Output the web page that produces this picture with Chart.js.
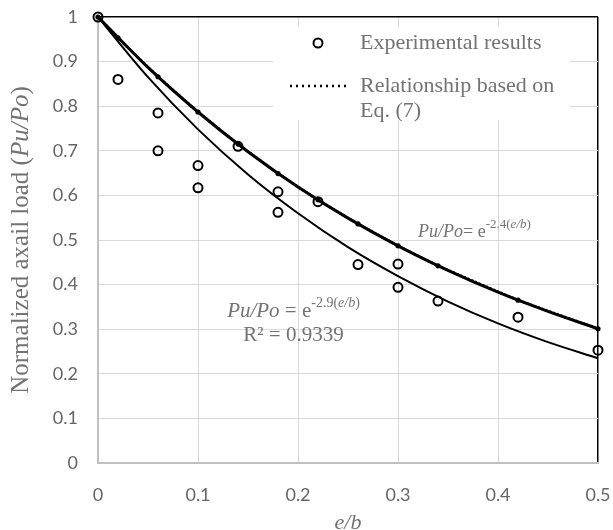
<!DOCTYPE html>
<html>
<head>
<meta charset="utf-8">
<script src="https://cdn.jsdelivr.net/npm/chart.js@4.4.1/dist/chart.umd.min.js"></script>
<style>
  html, body { margin: 0; padding: 0; background: #fff; }
</style>
</head>
<body>
<canvas id="chart" width="613" height="530"></canvas>
<script>
// experimental results (e/b, Pu/Po)
const expX = [0, 0.02, 0.06, 0.06, 0.10, 0.10, 0.14, 0.18, 0.18, 0.22, 0.26, 0.30, 0.30, 0.34, 0.42, 0.50];
const expY = [1.0, 0.86, 0.785, 0.70, 0.667, 0.617, 0.71, 0.608, 0.562, 0.586, 0.445, 0.446, 0.394, 0.363, 0.327, 0.253];

// relationship based on Eq. (7)
const eq7X = [0, 0.02, 0.06, 0.10, 0.14, 0.18, 0.22, 0.26, 0.30, 0.34, 0.42, 0.50];
const eq7Y = [1.0, 0.953, 0.866, 0.787, 0.715, 0.649, 0.590, 0.536, 0.487, 0.442, 0.365, 0.301];

// trend curves
const trendX = [0, 0.05, 0.10, 0.15, 0.20, 0.25, 0.30, 0.35, 0.40, 0.45, 0.50];
const trendEq7 = [1.0, 0.887, 0.787, 0.698, 0.619, 0.549, 0.487, 0.432, 0.383, 0.340, 0.301];
const trendExp = [1.0, 0.865, 0.748, 0.647, 0.560, 0.484, 0.419, 0.362, 0.313, 0.271, 0.235];

const xTicks = [0, 0.1, 0.2, 0.3, 0.4, 0.5];
const yTicks = [0, 0.1, 0.2, 0.3, 0.4, 0.5, 0.6, 0.7, 0.8, 0.9, 1];

const legendLabels = ['Experimental results', 'Relationship based on', 'Eq. (7)'];

const pts = (xs, ys) => xs.map((x, i) => ({ x: x, y: ys[i] }));
const SERIF = '"Liberation Serif", "Times New Roman", serif';
const TXT = '#737373';

// draws runs of text [str, italic, size, raise] one after another
function drawRuns(ctx, runs, x, y) {
  runs.forEach(r => {
    ctx.font = (r[1] ? 'italic ' : '') + r[2] + 'px ' + SERIF;
    ctx.fillText(r[0], x, y - (r[3] || 0));
    x += ctx.measureText(r[0]).width;
  });
}
function runsWidth(ctx, runs) {
  let w = 0;
  runs.forEach(r => { ctx.font = (r[1] ? 'italic ' : '') + r[2] + 'px ' + SERIF; w += ctx.measureText(r[0]).width; });
  return w;
}

const extras = {
  id: 'extras',
  beforeDatasetsDraw(chart) {
    const ctx = chart.ctx, a = chart.chartArea;
    const left = a.right - 325, top = a.top + 10;
    ctx.save();
    ctx.fillStyle = '#fff';
    ctx.fillRect(left, top, 297, 93);
    // circle marker
    ctx.beginPath();
    ctx.arc(left + 45, top + 16, 4.5, 0, Math.PI * 2);
    ctx.lineWidth = 2;
    ctx.strokeStyle = '#000';
    ctx.stroke();
    // dotted marker
    ctx.beginPath();
    ctx.setLineDash([2, 4]);
    ctx.lineWidth = 2.5;
    ctx.moveTo(left + 17, top + 59);
    ctx.lineTo(left + 75, top + 59);
    ctx.stroke();
    ctx.setLineDash([]);
    ctx.fillStyle = TXT;
    ctx.font = '22px ' + SERIF;
    ctx.textBaseline = 'middle';
    ctx.fillText(legendLabels[0], left + 87, top + 16);
    ctx.fillText(legendLabels[1], left + 87, top + 59);
    ctx.fillText(legendLabels[2], left + 87, top + 84);

    // y axis title, rotated, with italic Pu/Po
    const yt = [['Normalized axail load (', false, 25], ['Pu/Po', true, 25], [')', false, 25]];
    ctx.translate(21, (a.top + a.bottom) / 2);
    ctx.rotate(-Math.PI / 2);
    drawRuns(ctx, yt, -runsWidth(ctx, yt) / 2, 0);
    ctx.restore();
  },
  afterDatasetsDraw(chart) {
    const ctx = chart.ctx, xs = chart.scales.x, ys = chart.scales.y;
    ctx.save();
    ctx.fillStyle = TXT;
    ctx.textBaseline = 'middle';
    // upper equation
    drawRuns(ctx, [['Pu/Po', true, 18], ['= e', false, 18], ['-2.4(', false, 13, 7], ['e/b', true, 13, 7], [')', false, 13, 7]],
      xs.getPixelForValue(0.32), ys.getPixelForValue(0.518));
    // lower equation
    const r1 = [['Pu/Po', true, 21], [' = e', false, 21], ['-2.9(', false, 14, 8], ['e/b', true, 14, 8], [')', false, 14, 8]];
    const cx = xs.getPixelForValue(0.1955);
    drawRuns(ctx, r1, cx - runsWidth(ctx, r1) / 2, ys.getPixelForValue(0.339));
    const r2 = [['R² = 0.9339', false, 21]];
    drawRuns(ctx, r2, cx - runsWidth(ctx, r2) / 2, ys.getPixelForValue(0.285));
    ctx.restore();
  }
};

new Chart(document.getElementById('chart'), {
  type: 'scatter',
  plugins: [extras],
  data: {
    datasets: [
      {
        label: 'Experimental results',
        data: pts(expX, expY),
        showLine: false,
        pointRadius: 4.5,
        pointBorderWidth: 2,
        pointBorderColor: '#000',
        pointBackgroundColor: 'rgba(0,0,0,0)',
        clip: false
      },
      {
        label: 'Relationship based on Eq. (7)',
        data: pts(eq7X, eq7Y),
        showLine: true,
        borderColor: '#000',
        borderWidth: 2.5,
        borderDash: [2, 2],
        pointRadius: 2.6,
        pointBackgroundColor: '#000',
        pointBorderWidth: 0,
        clip: false
      },
      {
        label: 'trend Eq7',
        data: pts(trendX, trendEq7),
        showLine: true,
        borderColor: '#000',
        borderWidth: 3,
        pointRadius: 0,
        cubicInterpolationMode: 'monotone',
        clip: false
      },
      {
        label: 'trend exp',
        data: pts(trendX, trendExp),
        showLine: true,
        borderColor: '#000',
        borderWidth: 2,
        pointRadius: 0,
        cubicInterpolationMode: 'monotone',
        clip: false
      }
    ]
  },
  options: {
    responsive: false,
    animation: false,
    events: [],
    layout: { padding: { top: 17, right: 15, left: 0, bottom: 0 } },
    plugins: { legend: { display: false }, tooltip: { enabled: false } },
    scales: {
      x: {
        type: 'linear',
        min: 0, max: 0.5,
        afterBuildTicks: s => { s.ticks = xTicks.map(v => ({ value: v })); },
        afterFit: s => { s.height = 67; s.paddingLeft = 0; s.paddingRight = 0; },
        ticks: {
          padding: 21,
          color: '#666',
          font: { family: 'Lato', size: 18 },
          callback: v => String(+v.toFixed(1))
        },
        grid: {
          drawTicks: false,
          color: c => c.tick.value === 0.5 ? '#000' : '#d9d9d9',
          lineWidth: c => c.tick.value === 0.5 ? 1.5 : 1
        },
        border: { color: '#bfbfbf', width: 2 },
        title: {
          display: true,
          text: 'e/b',
          color: TXT,
          font: { family: SERIF, size: 22, style: 'italic', lineHeight: 1 },
          padding: { top: 0, bottom: -4 }
        }
      },
      y: {
        min: 0, max: 1,
        afterBuildTicks: s => { s.ticks = yTicks.map(v => ({ value: v })); },
        afterFit: s => { s.width = 98; s.paddingTop = 0; s.paddingBottom = 0; },
        ticks: {
          padding: 20,
          color: '#666',
          font: { family: 'Lato', size: 18 },
          callback: v => String(+v.toFixed(1))
        },
        grid: {
          drawTicks: false,
          color: c => c.tick.value === 1 ? '#000' : '#d9d9d9',
          lineWidth: c => c.tick.value === 1 ? 1.5 : 1
        },
        border: { color: '#bfbfbf', width: 2 }
      }
    }
  }
});
</script>
</body>
</html>
